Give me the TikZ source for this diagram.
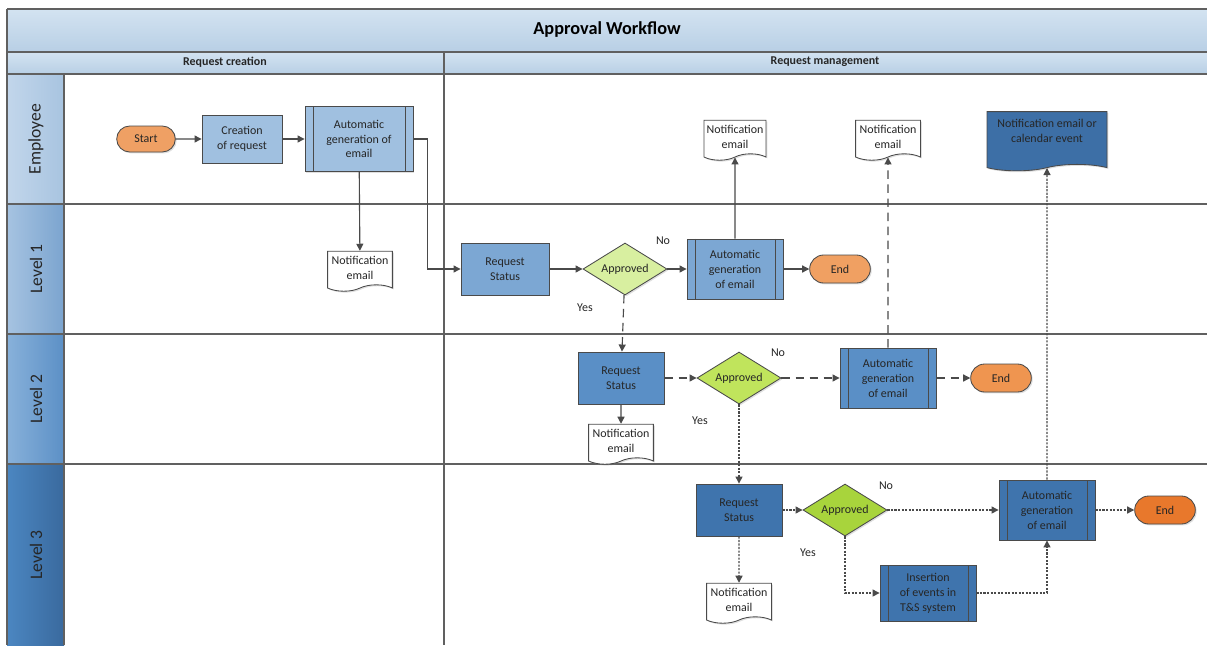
\documentclass[tikz,border=0pt]{standalone}
\usepackage{fontspec}
\setmainfont{Carlito}
\usepackage{tikz}
\usetikzlibrary{shapes.misc, shapes.geometric, shapes.symbols, arrows.meta, shadows}

\definecolor{linegray}{HTML}{4A4A4A}
\definecolor{framegray}{HTML}{606060}
\definecolor{titletop}{HTML}{D3E3F1}
\definecolor{titlebot}{HTML}{B8CFE5}
\definecolor{empL}{HTML}{C2D6EB}
\definecolor{empR}{HTML}{A8C4E0}
\definecolor{lvlaL}{HTML}{A6C3E1}
\definecolor{lvlaR}{HTML}{7BA4CF}
\definecolor{lvlbL}{HTML}{88B1DA}
\definecolor{lvlbR}{HTML}{5C90C6}
\definecolor{lvlcL}{HTML}{4B86C1}
\definecolor{lvlcR}{HTML}{3A6A9E}
\definecolor{empfill}{HTML}{A0C0E0}
\definecolor{lvlafill}{HTML}{7CA7D3}
\definecolor{lvlbfill}{HTML}{5A8FC6}
\definecolor{lvlcfill}{HTML}{3F74AD}
\definecolor{calfill}{HTML}{3D6FA6}
\definecolor{startfill}{HTML}{EFA064}
\definecolor{endafill}{HTML}{F0A062}
\definecolor{endbfill}{HTML}{EF9550}
\definecolor{endcfill}{HTML}{E8782C}
\definecolor{decafill}{HTML}{D8EFA0}
\definecolor{decbfill}{HTML}{C0E45C}
\definecolor{deccfill}{HTML}{A8D43C}

\newcommand{\boxfont}{\fontsize{8.5}{10.6}\selectfont}
\def\barw{0.2cm}

\tikzstyle{base} = [draw=linegray, line width=0.6pt, font=\boxfont, align=center, text=black!85, drop shadow={shadow xshift=1pt, shadow yshift=-1pt, opacity=0.25}]
\tikzstyle{term} = [base, rounded rectangle, minimum width=1.75cm, minimum height=0.7cm]
\tikzstyle{proc} = [base, rectangle, minimum width=2.15cm, minimum height=1.3cm]
\tikzstyle{subproc} = [base, rectangle, minimum width=2.4cm, minimum height=1.5cm, path picture={\draw[draw=linegray, line width=0.6pt] ([xshift=\barw]path picture bounding box.north west) -- ([xshift=\barw]path picture bounding box.south west) ([xshift=-\barw]path picture bounding box.north east) -- ([xshift=-\barw]path picture bounding box.south east);}]
\tikzstyle{decision} = [base, diamond, aspect=1.6, inner sep=0pt, minimum width=2.1cm, minimum height=1.3cm]
\tikzstyle{doc} = [base, tape, tape bend top=none, tape bend bottom=in and out, tape bend height=0.16cm, minimum width=1.62cm, minimum height=1cm, inner sep=1pt, fill=white]
\tikzstyle{lane} = [framegray, line width=0.8pt]
\tikzstyle{lanelabel} = [rotate=90, font=\fontsize{12.5}{14}\selectfont, text=black!85]
\tikzstyle{colhead} = [font=\fontsize{8.5}{10}\selectfont\bfseries, text=black!85]
\tikzstyle{answer} = [font=\boxfont, text=black!85]
\tikzstyle{arrow} = [draw=linegray, line width=0.8pt, -{Triangle[length=5pt,width=5pt]}]
\tikzstyle{dasharrow} = [arrow, dash pattern=on 6pt off 4pt]
\tikzstyle{dotarrow} = [arrow, dash pattern=on 1.5pt off 1pt]

\begin{document}
\begin{tikzpicture}[x=0.025cm, y=-0.025cm]
\useasboundingbox (0,0) rectangle (1207,645);

% pool and lanes
\shade [top color=titletop, bottom color=titlebot] (7,9) rectangle (1207,52);
\shade [top color=titletop, bottom color=titlebot] (7,52) rectangle (1207,74);
\shade [left color=empL, right color=empR] (7,74) rectangle (64,204);
\shade [left color=lvlaL, right color=lvlaR] (7,204) rectangle (64,334);
\shade [left color=lvlbL, right color=lvlbR] (7,334) rectangle (64,464);
\shade [left color=lvlcL, right color=lvlcR] (7,464) rectangle (64,645);
\draw [lane] (7,9) -- (1207,9);
\draw [lane] (7,52) -- (1207,52);
\draw [lane] (7,74) -- (1207,74);
\draw [lane] (7,204) -- (1207,204);
\draw [lane] (7,334) -- (1207,334);
\draw [lane] (7,464) -- (1207,464);
\draw [lane] (7,9) -- (7,645);
\draw [lane] (64,74) -- (64,645);
\draw [lane] (444,52) -- (444,645);

\node (title) at (607,30) {\fontsize{13}{15}\selectfont\bfseries Approval Workflow};
\node (colcreate) [colhead] at (225,62) {Request creation};
\node (colmanage) [colhead] at (825,62) {Request management};
\node (lemp) [lanelabel] at (36,139) {Employee};
\node (llvla) [lanelabel] at (36,269) {Level 1};
\node (llvlb) [lanelabel] at (36,399) {Level 2};
\node (llvlc) [lanelabel] at (36,555) {Level 3};

% employee
\node (start) [term, fill=startfill, minimum width=1.7cm, minimum height=0.65cm] at (146,139) {Start};
\node (create) [proc, fill=empfill, minimum width=2cm, minimum height=1.2cm] at (242,139) {Creation\\of request};
\node (autoemp) [subproc, fill=empfill, minimum width=2.7cm, minimum height=1.62cm] at (359,139) {Automatic\\generation of\\email};
\node (notifemp) [doc] at (360,268) {Notification\\email};
\draw [arrow] (start) -- (create);
\draw [arrow] (create) -- (autoemp);
\draw [arrow] (autoemp) -- (notifemp);

% level 1
\node (rsa) [proc, fill=lvlafill, minimum width=2.2cm] at (505,269) {Request\\Status};
\node (deca) [decision, fill=decafill] at (625,269) {Approved};
\node (autoa) [subproc, fill=lvlafill] at (735,269) {Automatic\\generation\\of email};
\node (enda) [term, fill=endafill] at (840,269) {End};
\node (notifa) [doc, minimum width=1.55cm] at (735,137) {Notification\\email};
\node (noa) [answer] at (663,241) {No};
\node (yesa) [answer] at (585,308) {Yes};
\draw [arrow] (autoemp.east) -- ++(14,0) |- (rsa.west);
\draw [arrow] (rsa) -- (deca);
\draw [arrow] (deca) -- (autoa);
\draw [arrow] (autoa) -- (enda);
\draw [arrow] (autoa) -- (notifa);

% level 2
\node (rsb) [proc, fill=lvlbfill] at (621,378) {Request\\Status};
\node (decb) [decision, fill=decbfill] at (739,378) {Approved};
\node (autob) [subproc, fill=lvlbfill] at (888,378) {Automatic\\generation\\of email};
\node (endb) [term, fill=endbfill] at (1001,378) {End};
\node (notifb) [doc] at (621,441) {Notification\\email};
\node (notifbtop) [doc] at (888,137) {Notification\\email};
\node (nob) [answer] at (778,353) {No};
\node (yesb) [answer] at (700,421) {Yes};
\draw [dasharrow] (deca) -- (rsb);
\draw [arrow] (rsb) -- (notifb);
\draw [dasharrow] (rsb) -- (decb);
\draw [dasharrow] (decb) -- (autob);
\draw [dasharrow] (autob) -- (endb);
\draw [dasharrow] (autob) -- (notifbtop);

% level 3
\node (rsc) [proc, fill=lvlcfill] at (739,510) {Request\\Status};
\node (decc) [decision, fill=deccfill] at (845,510) {Approved};
\node (autoc) [subproc, fill=lvlcfill] at (1047,510) {Automatic\\generation\\of email};
\node (endc) [term, fill=endcfill] at (1165,510) {End};
\node (notifc) [doc] at (739,600) {Notification\\email};
\node (insert) [subproc, fill=lvlcfill, minimum height=1.4cm] at (928,593) {Insertion\\of events in\\T\&S system};
\node (calendar) [doc, fill=calfill, minimum width=3cm, minimum height=1.48cm, text depth=0.38cm] at (1047,138) {Notification email or\\calendar event};
\node (noc) [answer] at (886,486) {No};
\node (yesc) [answer] at (808,553) {Yes};
\draw [dotarrow] (decb) -- (rsc);
\draw [dotarrow] (rsc) -- (notifc);
\draw [dotarrow] (rsc) -- (decc);
\draw [dotarrow] (decc) -- (autoc);
\draw [dotarrow] (autoc) -- (endc);
\draw [dotarrow] (decc) |- (insert);
\draw [dotarrow] (insert) -| (autoc);
\draw [dotarrow] (autoc) -- (calendar);

\end{tikzpicture}
\end{document}
